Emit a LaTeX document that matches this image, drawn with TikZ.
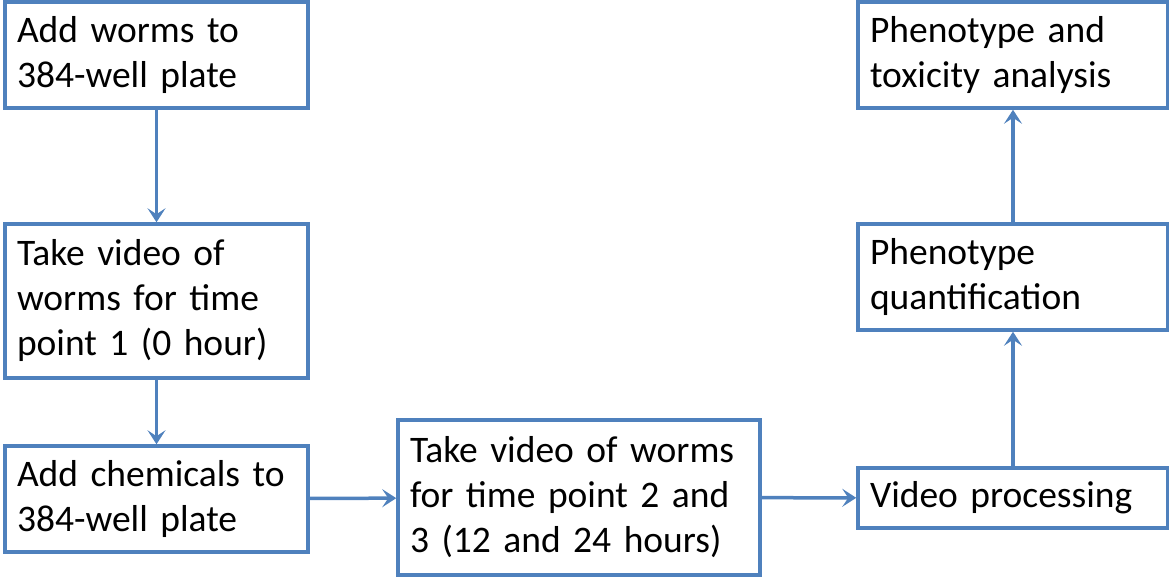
\documentclass[tikz,border=0pt]{standalone}
\usepackage{fontspec}
\setmainfont{Carlito}
\usetikzlibrary{arrows.meta,positioning}
\definecolor{OfficeBlue}{HTML}{4F81BD}
\tikzset{
  flowbox/.style={rectangle,draw=OfficeBlue,line width=3.5pt,fill=white,
                  inner xsep=12pt,inner ysep=0pt,align=left,
                  font=\fontsize{37.5}{45}\selectfont},
  arr/.style={-{Stealth[length=14pt,width=18pt,inset=6pt]},line width=3.5pt,
              color=OfficeBlue},
}
\begin{document}
\begin{tikzpicture}[x=1pt,y=-1pt]
  \useasboundingbox (0,0) rectangle (1169,577);

  % left column
  \node[flowbox,minimum width=303pt,minimum height=106pt,text width=279pt]
    (addworms) at (156.5,55) {Add worms to\\384-well plate};
  \node[flowbox,minimum width=303pt,minimum height=154pt,text width=279pt]
    (video1) at (156.5,301) {Take video of\\worms for time\\point 1 (0 hour)};
  \node[flowbox,minimum width=303pt,minimum height=106pt,text width=279pt]
    (addchem) at (156.5,499) {Add chemicals to\\384-well plate};

  % middle
  \node[flowbox,minimum width=362pt,minimum height=155pt,text width=338pt]
    (video23) at (579,497.5) {Take video of worms\\for time point 2 and\\3 (12 and 24 hours)};

  % right column
  \node[flowbox,minimum width=310pt,minimum height=60pt,text width=286pt]
    (vidproc) at (1013,498) {Video processing};
  \node[flowbox,minimum width=310pt,minimum height=106pt,text width=286pt]
    (quant) at (1013,277) {Phenotype\\quantification};
  \node[flowbox,minimum width=310pt,minimum height=106pt,text width=286pt]
    (analysis) at (1013,55) {Phenotype and\\toxicity analysis};

  \draw[arr] (addworms) -- (video1);
  \draw[arr] (video1) -- (addchem);
  \draw[arr] (addchem) -- (video23);
  \draw[arr] (video23) -- (vidproc);
  \draw[arr] (vidproc) -- (quant);
  \draw[arr] (quant) -- (analysis);
\end{tikzpicture}
\end{document}
